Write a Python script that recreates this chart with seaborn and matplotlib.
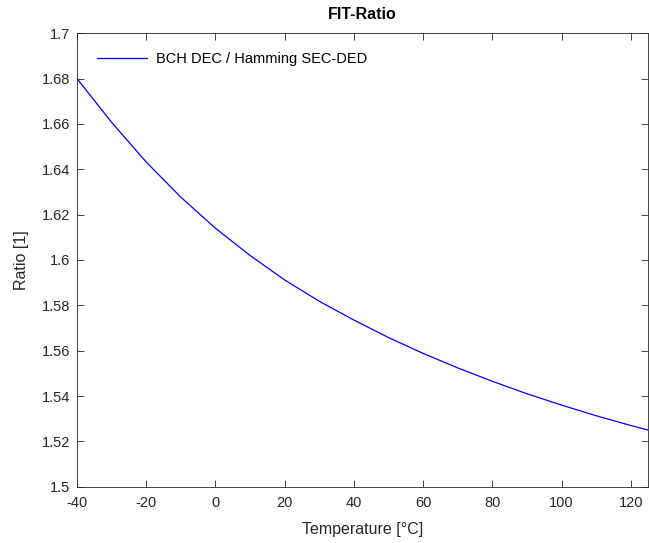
import pandas as pd
import matplotlib
matplotlib.use("Agg")
import matplotlib.pyplot as plt
import seaborn as sns
from matplotlib.ticker import FuncFormatter

# values
temperature = [-40, -30, -20, -10, 0, 10, 20, 30, 40, 50, 60, 70, 80, 90, 100, 110, 120, 125]
ratio = [1.6800, 1.6607, 1.6432, 1.6277, 1.6140, 1.6020, 1.5912, 1.5818, 1.5735,
         1.5658, 1.5588, 1.5524, 1.5465, 1.5410, 1.5360, 1.5313, 1.5270, 1.5250]
series_name = "BCH DEC / Hamming SEC-DED"
x_ticks = [-40, -20, 0, 20, 40, 60, 80, 100, 120]
y_ticks = [1.5, 1.52, 1.54, 1.56, 1.58, 1.6, 1.62, 1.64, 1.66, 1.68, 1.7]

df = pd.DataFrame({"Temperature": temperature, "Ratio": ratio})

sns.set_theme(style="ticks")
plt.rcParams['font.family'] = ['Liberation Sans', 'DejaVu Sans']
plt.rcParams['axes.unicode_minus'] = False
ink = "#262626"

fig = plt.figure(figsize=(6.49, 5.43), dpi=100)
ax = fig.add_axes([0.1187, 0.1037, 0.8798, 0.835])

sns.lineplot(data=df, x="Temperature", y="Ratio", color=(0, 0, 1), linewidth=0.9,
             label=series_name, ax=ax)

ax.set_xlim(-40, 125)
ax.set_ylim(1.5, 1.7)
ax.set_xticks(x_ticks)
ax.set_yticks(y_ticks)
ax.yaxis.set_major_formatter(FuncFormatter(lambda v, p: f"{v:g}"))
ax.tick_params(direction="in", length=5, width=0.6, top=True, right=True,
               labelsize=10.5, colors=ink, pad=5)
ax.tick_params(axis="x", pad=7)
for s in ax.spines.values():
    s.set_visible(True)
    s.set_color(ink)
    s.set_linewidth(0.6)

ax.set_xlabel("Temperature [°C]", fontsize=11.5, color=ink, labelpad=8)
ax.set_ylabel("Ratio [1]", fontsize=11.5, color=ink, labelpad=9)
ax.set_title("FIT-Ratio", fontsize=11.5, fontweight="bold", color="black", pad=10)

leg = ax.legend(loc="upper left", frameon=False, fontsize=10.5, handlelength=3.4,
                handletextpad=0.6, borderaxespad=0.6, bbox_to_anchor=(0.01, 0.99))
for t in leg.get_texts():
    t.set_color("black")

fig.savefig("out.png", dpi=100, facecolor="white")
